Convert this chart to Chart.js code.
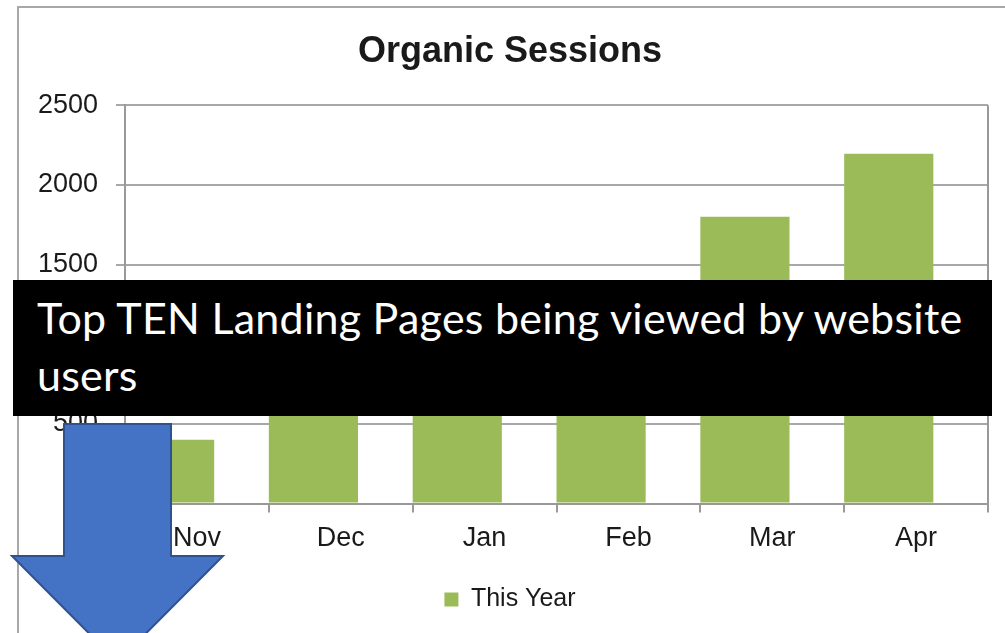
<!DOCTYPE html>
<html>
<head>
<meta charset="utf-8">
<script src="https://cdn.jsdelivr.net/npm/chart.js@4"></script>
<style>
  body { margin: 0; background: #fff; }
  #wrap { position: relative; width: 1005px; height: 633px; overflow: hidden; }
  #frame { position: absolute; left: 17px; top: 6px; width: 1100px; height: 700px; border: 2px solid #a8a8a8; }
  #sessChart { position: absolute; left: 0; top: 0; }
  #banner {
    position: absolute; left: 13px; top: 280px; width: 955px; height: 127px;
    padding: 9px 0 0 24px; background: #000; color: #fff;
    font-family: Lato, "Open Sans", sans-serif; font-size: 43px; line-height: 57px;
    letter-spacing: 0.25px;
  }
  #arrow { position: absolute; left: 0; top: 0; }
</style>
</head>
<body>
<div id="wrap">
  <div id="frame"></div>
  <canvas id="sessChart" width="1005" height="633"></canvas>
  <div id="banner">Top TEN Landing Pages being viewed by website<br>users</div>
  <svg id="arrow" width="1005" height="633">
    <polygon points="64,424 171,424 171,556 223,556 117.5,662 12,556 64,556"
             fill="#4472C4" stroke="#2F528F" stroke-width="2"/>
  </svg>
</div>
<script>
// dane wykresu
const months = ['Nov', 'Dec', 'Jan', 'Feb', 'Mar', 'Apr'];
const thisYear = [400, 950, 1100, 1250, 1800, 2195];
const yTicks = [0, 500, 1000, 1500, 2000, 2500];

const axisFont = { family: '"Liberation Sans", Arial, sans-serif', size: 27 };

// slupki sa wyrownane do lewej krawedzi kategorii (jak w oryginale)
const shiftBars = {
  id: 'shiftBars',
  beforeDatasetsDraw(chart) {
    const meta = chart.getDatasetMeta(0);
    const catW = chart.scales.x.width / months.length;
    const barW = meta.data[0].width;
    chart.ctx.save();
    chart.ctx.translate(-(catW - barW) / 2, 0);
  },
  afterDatasetsDraw(chart) {
    chart.ctx.restore();
  }
};

// prawa krawedz obszaru wykresu
const rightEdge = {
  id: 'rightEdge',
  afterDraw(chart) {
    const a = chart.chartArea;
    const ctx = chart.ctx;
    ctx.save();
    ctx.strokeStyle = '#999';
    ctx.lineWidth = 2;
    ctx.beginPath();
    ctx.moveTo(a.right, a.top);
    ctx.lineTo(a.right, a.bottom);
    ctx.stroke();
    ctx.restore();
  }
};

const ctx = document.getElementById('sessChart').getContext('2d');
new Chart(ctx, {
  type: 'bar',
  data: {
    labels: months,
    datasets: [{
      label: 'This Year',
      data: thisYear,
      backgroundColor: '#9BBB59',
      borderWidth: 0,
      categoryPercentage: 1,
      barPercentage: 0.62
    }]
  },
  options: {
    responsive: false,
    animation: false,
    layout: { padding: { left: 32, right: 17, top: 0, bottom: 11 } },
    plugins: {
      title: {
        display: true,
        text: 'Organic Sessions',
        color: '#1a1a1a',
        font: { family: '"Liberation Sans", Arial, sans-serif', size: 36, weight: 'bold' },
        padding: { top: 30, bottom: 32 }
      },
      legend: {
        position: 'bottom',
        labels: {
          color: '#1a1a1a',
          font: { family: '"Liberation Sans", Arial, sans-serif', size: 25 },
          boxWidth: 14,
          boxHeight: 14,
          padding: 22
        }
      },
      tooltip: { enabled: false }
    },
    scales: {
      x: {
        grid: { display: true, drawOnChartArea: false, offset: true, color: '#999', lineWidth: 2, tickLength: 9 },
        border: { color: '#999', width: 2 },
        ticks: { color: '#1a1a1a', font: axisFont, padding: 10 }
      },
      y: {
        min: 0,
        max: 2500,
        afterFit(scale) { scale.width = 93; },
        afterBuildTicks(scale) { scale.ticks = yTicks.map(v => ({ value: v })); },
        grid: { color: '#a8a8a8', lineWidth: 2, tickLength: 9 },
        border: { color: '#999', width: 2 },
        ticks: { color: '#1a1a1a', font: axisFont, padding: 18, callback: v => String(v) }
      }
    }
  },
  plugins: [shiftBars, rightEdge]
});
</script>
</body>
</html>
